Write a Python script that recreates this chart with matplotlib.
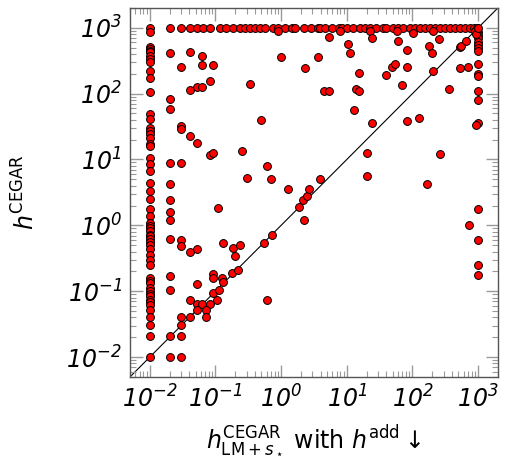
import numpy as np
import matplotlib
matplotlib.use("Agg")
import matplotlib.pyplot as plt
from matplotlib.ticker import LogLocator, NullFormatter, FuncFormatter

# ----------------------------------------------
# DATA
# ----------------------------------------------
TIMEOUT = 980.0

# points sitting on the timeout row (y = TIMEOUT)
top_row_x = [0.01, 0.02, 0.03, 0.041, 0.052, 0.065, 0.083, 0.117, 0.147, 0.187,
             0.24, 0.28, 0.335, 0.40, 0.48, 0.57, 0.76, 0.91, 1.14, 1.44,
             1.62, 2.2, 2.8, 3.6, 3.9, 4.7, 5.9, 7.5, 8.5, 10.1,
             12.6, 16, 19, 22.5, 28, 36, 40, 51, 61, 73,
             92, 110, 130, 155, 185, 220, 265, 315, 370, 440,
             527, 630, 750, 850, 950]

# points sitting on the timeout column (x = TIMEOUT)
right_col_y = [850, 775, 690, 612, 546, 486, 447, 280, 198, 182,
               108, 80, 36, 1.74, 0.59, 0.25, 0.179]

# the three left columns
col_a_x = 0.01
col_a_y = [850, 503, 470, 448, 422, 376, 330, 304, 222, 172, 104, 49, 41, 30, 27,
           24, 21.5, 17, 16, 10.6, 8.4, 6.7, 4.4, 3.3, 2.5, 1.78, 1.38, 1.09,
           0.97, 0.9, 0.81, 0.72, 0.68, 0.61, 0.56, 0.51, 0.43, 0.36, 0.30, 0.25,
           0.159, 0.145, 0.133, 0.112, 0.100, 0.092, 0.084, 0.074, 0.068, 0.062,
           0.052, 0.041, 0.031, 0.021, 0.010]
col_b_x = 0.02
col_b_y = [412, 84, 58, 8.9, 4.3, 2.4, 1.6, 1.2, 0.61, 0.168, 0.105, 0.021, 0.010]
col_c_x = 0.03
col_c_y = [258, 32, 29, 8.7, 0.60, 0.48, 0.041, 0.031, 0.021, 0.010]

# remaining scattered points
other_x = [0.041, 0.041, 0.041, 0.041, 0.041, 0.041,
           0.052, 0.052, 0.052, 0.052, 0.052, 0.052,
           0.062, 0.062, 0.062, 0.062,
           0.083, 0.083, 0.083,
           0.093, 0.093, 0.093, 0.093, 0.093,
           0.072, 0.072, 0.104, 0.113, 0.11, 0.124, 0.13, 0.13,
           0.176, 0.187, 0.198, 0.218, 0.24, 0.25, 0.30, 0.335,
           0.50, 0.54, 0.60, 0.61, 0.69, 0.72, 0.91, 1.0,
           1.26, 1.87, 2.15, 2.2, 2.3, 2.5, 2.7, 3.6, 3.9,
           4.5, 5.3, 5.3, 7.9, 10.6, 11.2, 13, 14, 15.3, 15.3,
           20, 20, 22.5, 24, 24, 40, 49, 54, 58, 61, 70,
           83, 83, 83, 103, 125, 164, 178, 195, 207, 207,
           255, 261, 358, 527, 527, 558, 643, 690, 731, 900, 914, 940]
other_y = [432, 114, 22.7, 0.40, 0.073, 0.041,
           124, 17.6, 0.44, 0.129, 0.064, 0.052,
           376, 274, 128, 0.064,
           153, 11.6, 0.064,
           272, 12.4, 0.183, 0.159, 0.094,
           0.052, 0.041, 0.073, 0.105, 1.85, 0.159, 0.53, 0.138,
           0.19, 0.455, 0.34, 0.21, 0.51, 13.5, 5.2, 139,
           40, 0.54, 8.1, 0.073, 5.1, 0.72, 880, 358,
           3.6, 1.9, 2.4, 1.2, 244, 2.8, 3.6, 362, 5.0,
           108, 108, 714, 880, 565, 412, 57, 117, 209, 108,
           12.4, 5.6, 880, 690, 36, 195, 255, 280, 880, 635, 134,
           453, 250, 38, 820, 42, 4.2, 527, 412, 222, 880,
           673, 12.2, 117, 515, 244, 532, 628, 257, 1.0, 900, 33, 800]

# ----------------------------------------------
# ASSEMBLE
# ----------------------------------------------
xs = np.concatenate([top_row_x,
                     np.full(len(right_col_y), TIMEOUT),
                     np.full(len(col_a_y), col_a_x),
                     np.full(len(col_b_y), col_b_x),
                     np.full(len(col_c_y), col_c_x),
                     other_x, [TIMEOUT]])
ys = np.concatenate([np.full(len(top_row_x), TIMEOUT),
                     right_col_y,
                     col_a_y, col_b_y, col_c_y,
                     other_y, [TIMEOUT]])

lo, hi = 0.005, 2000

# ----------------------------------------------
# PLOT
# ----------------------------------------------
# math "rm" is italic so digits of the tick labels come out slanted,
# \mathsf stays upright for the CEGAR / LM / add parts
plt.rcParams['mathtext.fontset'] = 'custom'
plt.rcParams['mathtext.rm'] = 'DejaVu Sans:italic'
plt.rcParams['mathtext.it'] = 'DejaVu Sans:italic'
plt.rcParams['mathtext.sf'] = 'DejaVu Sans'
plt.rcParams['mathtext.bf'] = 'DejaVu Sans:bold'

fig = plt.figure(figsize=(5.06, 4.67), dpi=100)
ax = fig.add_axes([0.257, 0.193, 0.727, 0.790])

ax.plot([lo, hi], [lo, hi], color='black', lw=0.8, zorder=1)
ax.scatter(xs, ys, s=32, c='#ff0000', edgecolors='black', linewidths=0.7, zorder=2)

ax.set_xscale('log')
ax.set_yscale('log')
ax.set_xlim(lo, hi)
ax.set_ylim(lo, hi)

decade_fmt = FuncFormatter(lambda v, p: r'$10^{%d}$' % int(round(np.log10(v))))
for axis in (ax.xaxis, ax.yaxis):
    axis.set_major_locator(LogLocator(base=10, numticks=20))
    axis.set_minor_locator(LogLocator(base=10, subs=np.arange(2, 10), numticks=20))
    axis.set_major_formatter(decade_fmt)
    axis.set_minor_formatter(NullFormatter())

ax.tick_params(which='both', direction='in', top=True, right=True, color='#9a9a9a')
ax.tick_params(which='major', length=9, width=1.0, labelsize=17, pad=6)
ax.tick_params(which='minor', length=4.5, width=0.8)
for s in ax.spines.values():
    s.set_color('#555555')
    s.set_linewidth(1.0)

ax.set_xlabel(r'$h^{\mathsf{CEGAR}}_{\mathsf{LM}+s_\star}$ with $h^{\mathsf{add}}\downarrow$',
              fontsize=17)
ax.xaxis.set_label_coords(0.5, -0.125)
ax.set_ylabel(r'$h^{\mathsf{CEGAR}}$', fontsize=17)
ax.yaxis.set_label_coords(-0.245, 0.5)

fig.savefig('out.png', dpi=100)
